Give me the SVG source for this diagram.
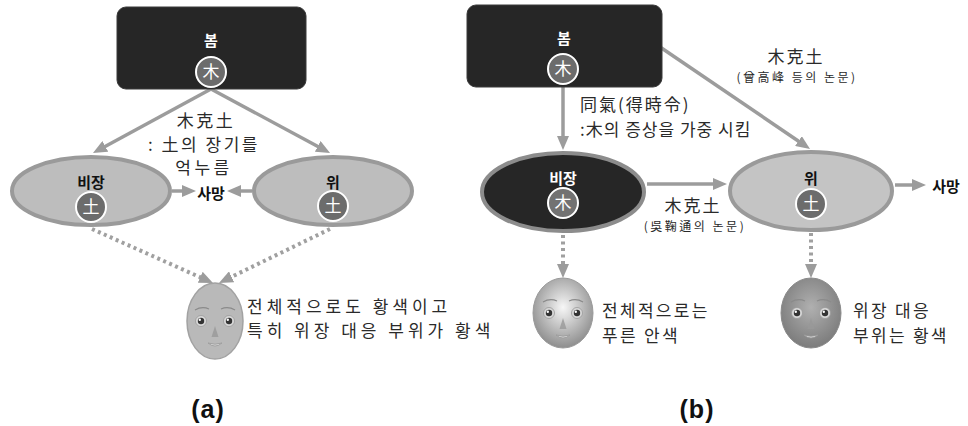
<svg xmlns="http://www.w3.org/2000/svg" width="968" height="426" viewBox="0 0 968 426">
<style>
.box{fill:#262626;stroke:#3a3a3a;stroke-width:1}
.ell{fill:#bdbdbd;stroke:#9a9a9a;stroke-width:4}
.ellD{fill:#262626;stroke:#8c8c8c;stroke-width:4}
.elem{fill:#6c6c6c;stroke:#ffffff;stroke-width:2}
.elemT{font-family:"Noto Sans CJK KR","Noto Sans CJK SC",sans-serif;font-size:17px;fill:#ffffff;text-anchor:middle}
.bw{font-family:"Noto Sans CJK KR",sans-serif;font-weight:bold;font-size:15px;fill:#ffffff;text-anchor:middle}
.bk{font-family:"Noto Sans CJK KR",sans-serif;font-weight:bold;font-size:15px;fill:#111111;text-anchor:middle}
.lbl{font-family:"Noto Sans CJK KR","Noto Sans CJK SC",sans-serif;font-size:17px;fill:#2a2a2a}
.sm{font-family:"Noto Sans CJK KR","Noto Sans CJK TC",sans-serif;font-size:12px;fill:#2a2a2a;letter-spacing:2.5px;text-anchor:middle}
.cap{font-family:"Liberation Sans",Arial,sans-serif;font-weight:bold;font-size:25px;fill:#111111;text-anchor:middle;letter-spacing:1px}
.ln{stroke:#9c9c9c;stroke-width:3.5;fill:none}
.dot{stroke:#a0a0a0;stroke-width:4;fill:none;stroke-dasharray:3 3.5}
</style>
<defs>
<marker id="ah" markerUnits="userSpaceOnUse" markerWidth="14" markerHeight="12" viewBox="0 0 14 12" refX="6" refY="6" orient="auto">
<path d="M0,0 L14,6 L0,12 Z" fill="#9c9c9c"/>
</marker>
<radialGradient id="gL" cx="0.5" cy="0.42" r="0.6">
<stop offset="0" stop-color="#f7f7f7"/>
<stop offset="1" stop-color="#8a8a8a"/>
</radialGradient>
<radialGradient id="gR" cx="0.5" cy="0.42" r="0.6">
<stop offset="0" stop-color="#b0b0b0"/>
<stop offset="1" stop-color="#7a7a7a"/>
</radialGradient>
<g id="feat">
<path d="M-20,-10 Q-13,-14 -6,-11 M6,-11 Q13,-14 20,-10" stroke="#8a8a8a" stroke-width="1.2" fill="none"/>
<circle cx="-14" cy="1" r="5.5" fill="#d8d8d8" stroke="#999" stroke-width="0.8"/>
<circle cx="14" cy="1" r="5.5" fill="#d8d8d8" stroke="#999" stroke-width="0.8"/>
<circle cx="-14" cy="1" r="3.2" fill="#333"/>
<circle cx="14" cy="1" r="3.2" fill="#333"/>
<circle cx="-15.2" cy="-0.3" r="1.2" fill="#fff"/>
<circle cx="12.8" cy="-0.3" r="1.2" fill="#fff"/>
<path d="M0,6 L-3.5,17 L3.5,17 Z" fill="#999" opacity="0.8"/>
<path d="M-7,23 Q0,29 7,23 Q0,25.5 -7,23 Z" fill="#dcdcdc" stroke="#999" stroke-width="0.8"/>
</g>
</defs>
<rect width="968" height="426" fill="#ffffff"/>

<g id="connectors">
<line class="ln" x1="211" y1="89" x2="100" y2="149.2" marker-end="url(#ah)"/>
<line class="ln" x1="211" y1="89" x2="323" y2="149.2" marker-end="url(#ah)"/>
<line class="ln" x1="172" y1="191" x2="188" y2="191" marker-end="url(#ah)"/>
<line class="ln" x1="252" y1="191" x2="235" y2="191" marker-end="url(#ah)"/>
<line class="dot" x1="92" y1="229" x2="205.7" y2="279.7" marker-end="url(#ah)"/>
<line class="dot" x1="330" y1="229" x2="226.2" y2="279.4" marker-end="url(#ah)"/>
<line class="ln" x1="563" y1="87" x2="563" y2="142" marker-end="url(#ah)"/>
<line class="ln" x1="660" y1="47" x2="803.4" y2="144.5" marker-end="url(#ah)"/>
<line class="ln" x1="647" y1="184" x2="719" y2="184" marker-end="url(#ah)"/>
<line class="ln" x1="895" y1="185" x2="918" y2="185" marker-end="url(#ah)"/>
<line class="dot" x1="563" y1="235" x2="563" y2="270" marker-end="url(#ah)"/>
<line class="dot" x1="811" y1="233" x2="811" y2="270" marker-end="url(#ah)"/>
</g>

<g id="a-spring">
<rect class="box" x="117" y="7" width="189" height="82" rx="9"/>
<text class="bw" x="211" y="46">봄</text>
<circle class="elem" cx="211" cy="72" r="15"/>
<text class="elemT" x="211" y="78">木</text>
</g>
<g id="a-spleen">
<ellipse class="ell" cx="91" cy="191" rx="79" ry="34"/>
<text class="bk" x="91" y="188">비장</text>
<circle class="elem" cx="91" cy="207" r="15"/>
<text class="elemT" x="91" y="213">土</text>
</g>
<g id="a-stomach">
<ellipse class="ell" cx="333" cy="191" rx="79" ry="34"/>
<text class="bk" x="333" y="188">위</text>
<circle class="elem" cx="333" cy="206" r="15"/>
<text class="elemT" x="333" y="212">土</text>
</g>
<g id="a-death">
<text class="bk" x="211" y="199">사망</text>
</g>
<g id="a-label">
<text class="lbl" x="206" y="127" font-size="16" text-anchor="middle" letter-spacing="2.5">木克土</text>
<text class="lbl" x="204" y="151" font-size="16" text-anchor="middle" letter-spacing="2.5">: 土의 장기를</text>
<text class="lbl" x="204" y="174" font-size="16" text-anchor="middle" letter-spacing="3.5">억누름</text>
</g>
<g id="a-face">
<ellipse cx="215" cy="321" rx="28" ry="38" fill="#b9b9b9" stroke="#a2a2a2" stroke-width="1.5"/>
<use href="#feat" transform="translate(215,320)"/>
<text class="lbl" x="247" y="313" font-size="15" letter-spacing="4">전체적으로도 황색이고</text>
<text class="lbl" x="247" y="337" font-size="15" letter-spacing="4">특히 위장 대응 부위가 황색</text>
</g>
<text class="cap" x="208" y="418">(a)</text>

<g id="b-spring">
<rect class="box" x="467" y="5" width="195" height="82" rx="9"/>
<text class="bw" x="564" y="44">봄</text>
<circle class="elem" cx="563" cy="69" r="15"/>
<text class="elemT" x="563" y="75">木</text>
</g>
<g id="b-spleen">
<ellipse class="ellD" cx="563" cy="192" rx="81" ry="39"/>
<text class="bw" x="563" y="184">비장</text>
<circle class="elem" cx="563" cy="203" r="15" style="fill:#727272"/>
<text class="elemT" x="563" y="209">木</text>
</g>
<g id="b-stomach">
<ellipse class="ell" cx="811" cy="191" rx="81" ry="39" style="fill:#c4c4c4"/>
<text class="bk" x="811" y="184">위</text>
<circle class="elem" cx="811" cy="204" r="15"/>
<text class="elemT" x="811" y="210">土</text>
</g>
<g id="b-death">
<text class="bk" x="946" y="192">사망</text>
</g>
<g id="b-label1">
<text class="lbl" x="580" y="111" letter-spacing="2">同氣(得時令)</text>
<text class="lbl" x="580" y="136" letter-spacing="1">:木의 증상을 가중 시킴</text>
</g>
<g id="b-label2">
<text class="lbl" x="796" y="63" text-anchor="middle" letter-spacing="2">木克土</text>
<text class="sm" x="797" y="82">(曾高峰 등의 논문)</text>
</g>
<g id="b-label3">
<text class="lbl" x="693" y="212" text-anchor="middle" letter-spacing="2">木克土</text>
<text class="sm" x="695" y="231">(吳鞠通의 논문)</text>
</g>
<g id="b-face1">
<ellipse cx="563" cy="313" rx="30" ry="35" fill="url(#gL)" stroke="#9a9a9a" stroke-width="1"/>
<use href="#feat" transform="translate(563,312)"/>
<text class="lbl" x="602" y="317" letter-spacing="2.3">전체적으로는</text>
<text class="lbl" x="602" y="342" letter-spacing="2.3">푸른 안색</text>
</g>
<g id="b-face2">
<ellipse cx="811" cy="313" rx="30" ry="35" fill="url(#gR)" stroke="#8a8a8a" stroke-width="1"/>
<use href="#feat" transform="translate(811,312)"/>
<text class="lbl" x="853" y="317" letter-spacing="2.3">위장 대응</text>
<text class="lbl" x="853" y="342" letter-spacing="2.3">부위는 황색</text>
</g>
<text class="cap" x="697" y="418">(b)</text>
</svg>
